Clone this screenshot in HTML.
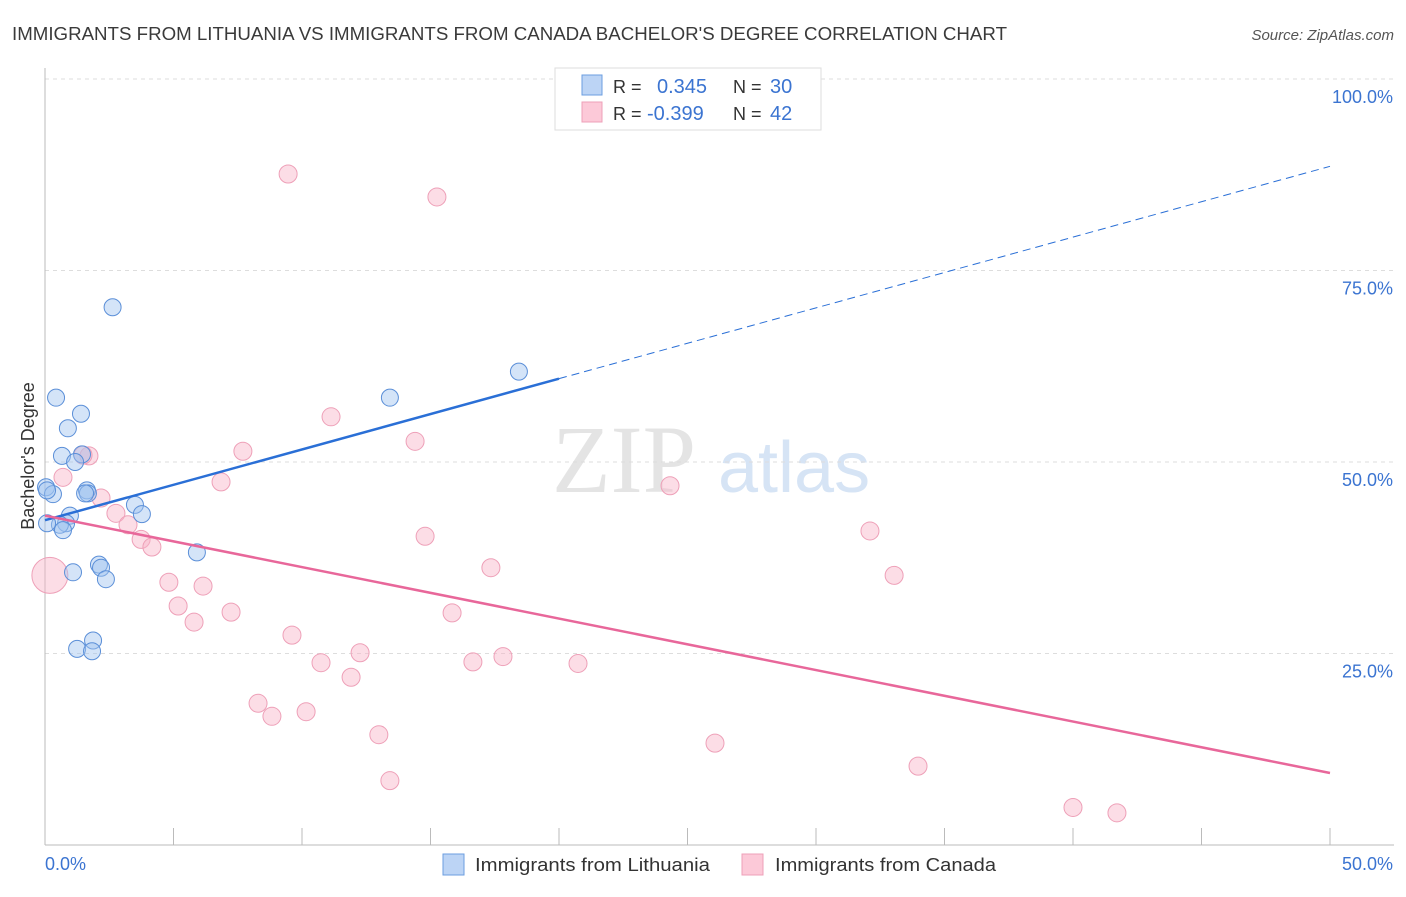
<!DOCTYPE html>
<html><head><meta charset="utf-8"><style>
body{margin:0;background:#fff;font-family:"Liberation Sans",sans-serif}
</style></head><body>
<svg id="c" width="1406" height="892" xmlns="http://www.w3.org/2000/svg"></svg>
<script>
const blueX=[2.63,0.43,1.40,0.89,0.66,1.44,1.17,0.04,0.31,1.63,1.67,1.56,3.50,3.77,0.97,0.82,0.58,0.70,0.08,5.91,2.10,2.18,2.37,1.09,1.87,1.25,1.83,13.42,18.44,0.08];
const blueY=[70.2,58.4,56.3,54.4,50.8,51.0,50.0,46.7,45.8,46.3,45.9,45.9,44.4,43.2,43.0,42.0,41.8,41.1,42.0,38.2,36.6,36.2,34.7,35.6,26.7,25.6,25.3,58.4,61.8,46.3];
const pinkX=[9.46,15.25,11.13,7.70,14.40,1.71,0.70,6.85,2.18,2.76,3.23,3.74,4.16,24.32,14.79,32.10,17.35,33.04,4.82,6.15,5.18,7.24,5.80,15.84,9.61,10.74,12.26,16.65,17.82,20.74,11.91,8.29,8.83,10.16,12.99,13.42,26.07,33.97,40.00,41.71,0.19,1.48];
const pinkY=[87.6,84.6,55.9,51.4,52.7,50.8,48.0,47.4,45.3,43.3,41.8,39.9,38.9,46.9,40.3,41.0,36.2,35.2,34.3,33.8,31.2,30.4,29.1,30.3,27.4,23.8,25.1,23.9,24.6,23.7,21.9,18.5,16.8,17.4,14.4,8.4,13.3,10.3,4.9,4.2,35.2,50.9];
const pinkR=[];for(let i=0;i<pinkX.length;i++)pinkR.push(i==40?18:9);
const xTicks=["0.0%","50.0%"];
const yTicks=[25,50,75,100];
const blueLine=[42.4,88.6], blueSolidEnd=20.0, pinkLine=[43.0,9.4];
const X=v=>45+v*25.7, Y=v=>845-v*7.66;
const s=document.getElementById('c');const NS="http://www.w3.org/2000/svg";
function el(t,a,p){const e=document.createElementNS(NS,t);for(const k in a)e.setAttribute(k,a[k]);(p||s).appendChild(e);return e;}
function tx(str,a,name){const e=el('text',a);e.textContent=str;return e;}
tx("IMMIGRANTS FROM LITHUANIA VS IMMIGRANTS FROM CANADA BACHELOR'S DEGREE CORRELATION CHART",{x:12,y:40,'font-size':18,fill:'#3a3a3a',textLength:995,lengthAdjust:'spacingAndGlyphs'},'chart-title');
tx("Source: ZipAtlas.com",{x:1394,y:40,'font-size':15,fill:'#555','text-anchor':'end','font-style':'italic'},'source-label');
tx("ZIP",{x:552,y:492,'font-size':96,fill:'#e4e4e4','font-family':'Liberation Serif'},'watermark-zip');
tx("atlas",{x:718,y:492,'font-size':72,fill:'#d6e4f5'},'watermark-atlas');
yTicks.forEach(v=>{const g=el('line',{x1:45,x2:1394,y1:Y(v),y2:Y(v),stroke:'#ddd','stroke-dasharray':'4,4'});
 tx(v.toFixed(1)+"%",{x:1393,y:Y(v)+24,'font-size':18,fill:'#3b74d1','text-anchor':'end'},'y-tick-'+v);});
let a=el('line',{x1:45,x2:45,y1:68,y2:845,stroke:'#bbb'});
a=el('line',{x1:45,x2:1394,y1:845,y2:845,stroke:'#bbb'});
for(let i=0;i<=10;i++){const t=el('line',{x1:X(i*5),x2:X(i*5),y1:828,y2:845,stroke:'#bbb'});}
tx(xTicks[0],{x:45,y:870,'font-size':18,fill:'#3b74d1'},'x-tick-label-min');
tx(xTicks[1],{x:1393,y:870,'font-size':18,fill:'#3b74d1','text-anchor':'end'},'x-tick-label-max');
tx("Bachelor's Degree",{x:34,y:456,'font-size':18,fill:'#333','text-anchor':'middle',transform:'rotate(-90 34 456)'},'y-axis-title');
for(let i=0;i<pinkX.length;i++){const c=el('circle',{cx:X(pinkX[i]),cy:Y(pinkY[i]),r:pinkR[i],fill:'rgba(248,180,200,0.45)',stroke:'#eea0b8','stroke-width':1});}
for(let i=0;i<blueX.length;i++){const c=el('circle',{cx:X(blueX[i]),cy:Y(blueY[i]),r:8.5,fill:'rgba(160,195,240,0.45)',stroke:'#5b8fd8','stroke-width':1});}
const by=v=>blueLine[0]+(blueLine[1]-blueLine[0])*v/50;
let l=el('line',{x1:X(0),y1:Y(by(0)),x2:X(blueSolidEnd),y2:Y(by(blueSolidEnd)),stroke:'#2a6fd6','stroke-width':2.5});
l=el('line',{x1:X(blueSolidEnd),y1:Y(by(blueSolidEnd)),x2:X(50),y2:Y(by(50)),stroke:'#2a6fd6','stroke-width':1,'stroke-dasharray':'8,5'});
l=el('line',{x1:X(0),y1:Y(pinkLine[0]),x2:X(50),y2:Y(pinkLine[1]),stroke:'#e8679a','stroke-width':2.5});
let b=el('rect',{x:555,y:68,width:266,height:62,fill:'#fff',stroke:'#ddd'});
b=el('rect',{x:582,y:75,width:20,height:20,fill:'#bcd4f5',stroke:'#6b9ee0'});
b=el('rect',{x:582,y:102,width:20,height:20,fill:'#fcc9d8',stroke:'#eea0b8'});
tx("R =",{x:613,y:93,'font-size':18,fill:'#333'},'legend-r-label');tx("0.345",{x:657,y:93,'font-size':20,fill:'#3b74d1'},'legend-r-lithuania');
tx("N =",{x:733,y:93,'font-size':18,fill:'#333'},'legend-n-label');tx("30",{x:770,y:93,'font-size':20,fill:'#3b74d1'},'legend-n-lithuania');
tx("R =",{x:613,y:120,'font-size':18,fill:'#333'},'legend-r-label');tx("-0.399",{x:647,y:120,'font-size':20,fill:'#3b74d1'},'legend-r-canada');
tx("N =",{x:733,y:120,'font-size':18,fill:'#333'},'legend-n-label');tx("42",{x:770,y:120,'font-size':20,fill:'#3b74d1'},'legend-n-canada');
b=el('rect',{x:443,y:854,width:21,height:21,fill:'#bcd4f5',stroke:'#6b9ee0'});
tx("Immigrants from Lithuania",{x:475,y:871,'font-size':18,fill:'#333',textLength:235,lengthAdjust:'spacingAndGlyphs'},'legend-label-lithuania');
b=el('rect',{x:742,y:854,width:21,height:21,fill:'#fcc9d8',stroke:'#eea0b8'});
tx("Immigrants from Canada",{x:775,y:871,'font-size':18,fill:'#333',textLength:221,lengthAdjust:'spacingAndGlyphs'},'legend-label-canada');
</script>
</body></html>
